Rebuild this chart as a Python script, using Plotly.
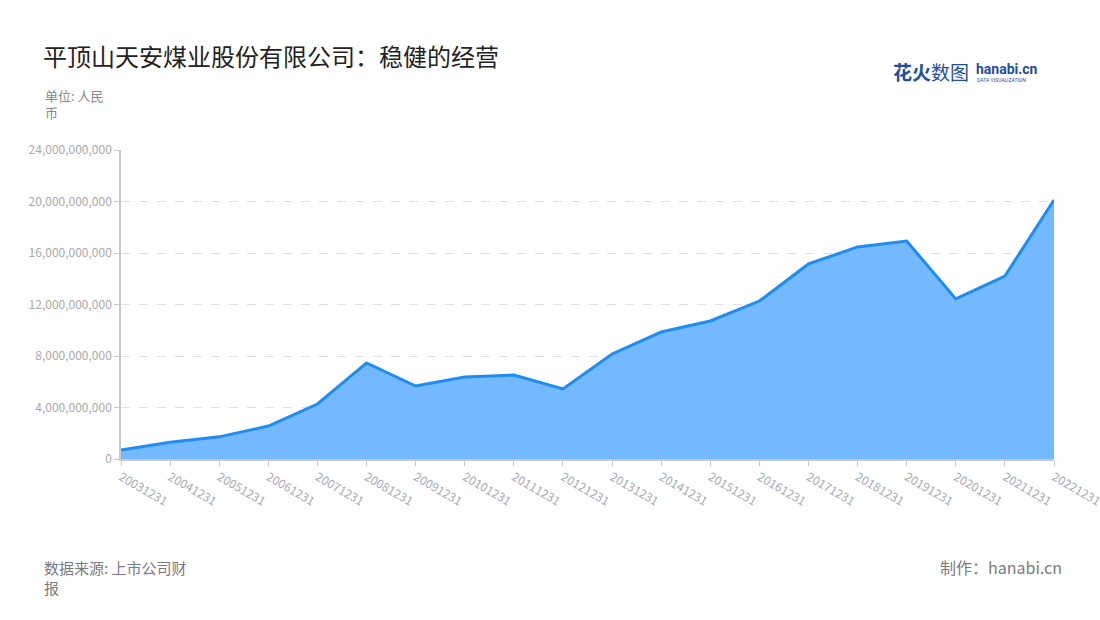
import plotly.graph_objects as go

years = ["20031231","20041231","20051231","20061231","20071231","20081231","20091231",
         "20101231","20111231","20121231","20131231","20141231","20151231","20161231",
         "20171231","20181231","20191231","20201231","20211231","20221231"]
values = [0.70e9, 1.30e9, 1.72e9, 2.56e9, 4.27e9, 7.46e9, 5.67e9, 6.37e9, 6.52e9, 5.44e9,
          8.16e9, 9.86e9, 10.72e9, 12.27e9, 15.15e9, 16.47e9, 16.93e9, 12.43e9, 14.21e9, 20.12e9]
y_ticks = [0, 4e9, 8e9, 12e9, 16e9, 20e9, 24e9]

FONT = "Noto Sans CJK SC"

fig = go.Figure()
fig.add_trace(go.Scatter(
    x=list(range(len(years))), y=values, mode="lines",
    line=dict(color="#1e8cf5", width=3),
    fill="tozeroy", fillcolor="#74b9fe",
    hoverinfo="skip"))

fig.update_layout(
    width=1100, height=620,
    margin=dict(l=121, r=46, t=150, b=161),
    paper_bgcolor="white", plot_bgcolor="white",
    showlegend=False,
    font=dict(family=FONT, color="#999999"),
    xaxis=dict(
        range=[0, len(years) - 1], automargin=False,
        tickmode="array", tickvals=list(range(len(years))), ticktext=years,
        tickangle=30, tickfont=dict(size=12, color="#a9a9b4"),
        ticklabeloverflow="allow",
        showline=True, linecolor="#c8c8c8", linewidth=1.5,
        ticks="outside", ticklen=5, tickcolor="#c8c8c8",
        showgrid=False, zeroline=False, fixedrange=True),
    yaxis=dict(
        range=[0, 24e9], tickmode="array", tickvals=y_ticks, automargin=False,
        ticktext=[f"{int(v):,}" for v in y_ticks],
        tickfont=dict(size=12, color="#a9a9a9"),
        showline=True, linecolor="#c8c8c8", linewidth=1.5,
        ticks="outside", ticklen=5, tickcolor="#c8c8c8",
        showgrid=True, gridcolor="#e0e0e0", griddash="dash", gridwidth=1,
        zeroline=False, fixedrange=True),
)

def px_x(x):
    return (x - 121) / (1054 - 121)

def px_y(y):
    return (459 - y) / (459 - 150)

ann = [
    dict(text="平顶山天安煤业股份有限公司：稳健的经营", x=41, y=55, size=24, color="#222222"),
    dict(text="单位: 人民<br>币", x=43, y=104.5, size=13, color="#888888"),
    dict(text="数据来源: 上市公司财<br>报", x=42, y=577.5, size=15, color="#7a7a82"),
]
for a in ann:
    fig.add_annotation(text=a["text"], xref="paper", yref="paper",
                       x=px_x(a["x"]), y=px_y(a["y"]), xanchor="left", yanchor="middle",
                       align="left", showarrow=False,
                       font=dict(family=FONT, size=a["size"], color=a["color"]))

fig.add_annotation(text="制作：hanabi.cn", xref="paper", yref="paper",
                   x=px_x(1064), y=px_y(567), xanchor="right", yanchor="middle",
                   showarrow=False, font=dict(family=FONT, size=16, color="#7a7a82"))

# logo
fig.add_annotation(text="<b>花火</b>数图", xref="paper", yref="paper",
                   x=px_x(891), y=px_y(72), xanchor="left", yanchor="middle",
                   showarrow=False, font=dict(family=FONT, size=19, color="#1f4e9c"))
fig.add_annotation(text="<b>hanabi.cn</b>", xref="paper", yref="paper",
                   x=px_x(974), y=px_y(69), xanchor="left", yanchor="middle",
                   showarrow=False, font=dict(family="Roboto", size=14, color="#1f4e9c"))
fig.add_annotation(text="DATA VISUALIZATION", xref="paper", yref="paper",
                   x=px_x(975), y=px_y(80), xanchor="left", yanchor="middle",
                   showarrow=False, font=dict(family="Roboto", size=5, color="#1f4e9c"))

fig.write_html(
    "out.html",
    config={"displayModeBar": False},
    post_script=("document.body.style.margin='0';"
                 "document.body.style.overflow='hidden';"
                 "document.documentElement.style.overflow='hidden';"),
)
